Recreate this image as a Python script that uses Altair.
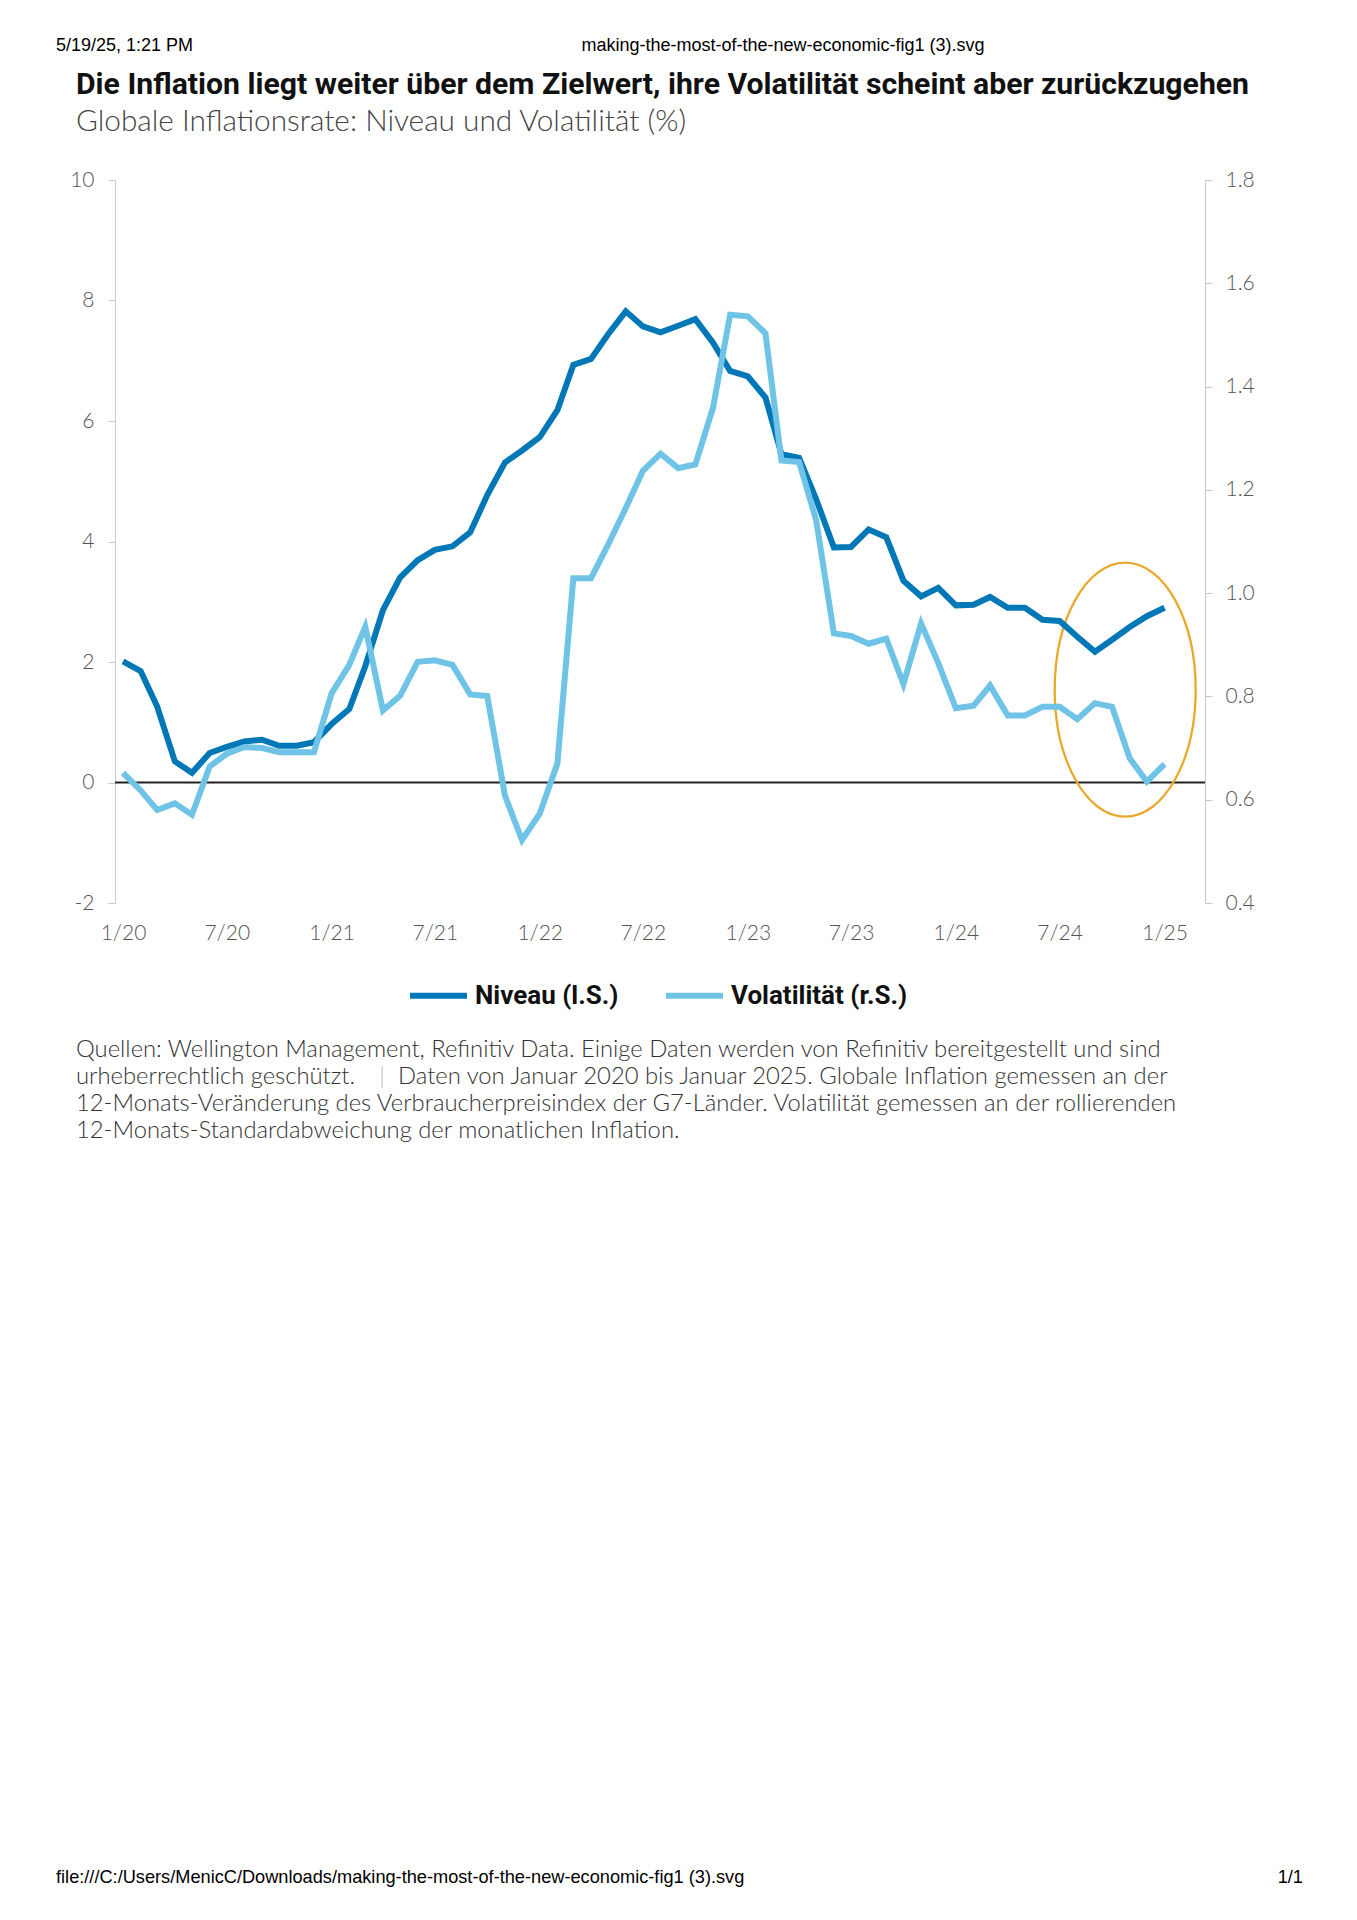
import altair as alt
import pandas as pd

# ---------------- data ----------------
months = [d.strftime("%Y-%m-%dT00:00:00") for d in pd.date_range("2020-01-01", periods=61, freq="MS")]

niveau = [2.01, 1.85, 1.26, 0.35, 0.16, 0.49, 0.59, 0.68, 0.71, 0.61,
          0.61, 0.67, 0.97, 1.22, 1.93, 2.86, 3.40, 3.69, 3.86, 3.92,
          4.15, 4.77, 5.31, 5.51, 5.73, 6.18, 6.93, 7.03, 7.44, 7.82,
          7.57, 7.47, 7.58, 7.69, 7.30, 6.83, 6.74, 6.39, 5.45, 5.39,
          4.70, 3.90, 3.91, 4.20, 4.07, 3.35, 3.09, 3.23, 2.94, 2.95,
          3.08, 2.90, 2.90, 2.70, 2.68, 2.42, 2.17, 2.37, 2.58, 2.76,
          2.90]

volatilitaet = [0.652, 0.618, 0.580, 0.593, 0.571, 0.664, 0.689, 0.702, 0.700, 0.692,
                0.692, 0.692, 0.806, 0.861, 0.935, 0.773, 0.801, 0.867, 0.870, 0.861,
                0.804, 0.801, 0.608, 0.522, 0.573, 0.670, 1.029, 1.029, 1.094, 1.165,
                1.237, 1.270, 1.242, 1.249, 1.359, 1.539, 1.536, 1.503, 1.257, 1.254,
                1.141, 0.922, 0.917, 0.902, 0.912, 0.824, 0.941, 0.865, 0.777, 0.782,
                0.821, 0.763, 0.763, 0.780, 0.780, 0.756, 0.787, 0.780, 0.680, 0.635,
                0.669]

series_names = ["Niveau (l.S.)", "Volatilität (r.S.)"]
series_colors = ["#0077B6", "#6EC3E6"]

left_ticks = [-2, 0, 2, 4, 6, 8, 10]
right_ticks = [0.4, 0.6, 0.8, 1.0, 1.2, 1.4, 1.6, 1.8]
x_tick_years = [2020, 2020, 2021, 2021, 2022, 2022, 2023, 2023, 2024, 2024, 2025]
x_tick_months = [1, 7, 1, 7, 1, 7, 1, 7, 1, 7, 1]

zero_value = [0]
highlight_date = ["2024-10-24T00:00:00"]
highlight_value = [1.54]

title_text = "Die Inflation liegt weiter über dem Zielwert, ihre Volatilität scheint aber zurückzugehen"
subtitle_text = "Globale Inflationsrate: Niveau und Volatilität (%)"
footnote_lines = [
    "Quellen: Wellington Management, Refinitiv Data. Einige Daten werden von Refinitiv bereitgestellt und sind",
    "urheberrechtlich geschützt.",
    "Daten von Januar 2020 bis Januar 2025. Globale Inflation gemessen an der",
    "12-Monats-Veränderung des Verbraucherpreisindex der G7-Länder. Volatilität gemessen an der rollierenden",
    "12-Monats-Standardabweichung der monatlichen Inflation.",
]
header_left = "5/19/25, 1:21 PM"
header_center = "making-the-most-of-the-new-economic-fig1 (3).svg"
footer_left = "file:///C:/Users/MenicC/Downloads/making-the-most-of-the-new-economic-fig1 (3).svg"
footer_right = "1/1"

# ---------------- tables ----------------
df_niveau = pd.DataFrame({"date": months, "value": niveau, "series": series_names[0]})
df_vola = pd.DataFrame({"date": months, "value": volatilitaet, "series": series_names[1]})
df_zero = pd.DataFrame({"value": zero_value})
df_highlight = pd.DataFrame({"date": highlight_date, "value": highlight_value})
df_one = pd.DataFrame({"k": [0]})

# ---------------- styles ----------------
LABEL_FONT = "Lato"
AXIS_GRAY = "#c9c9c9"

x_scale = alt.Scale(domain=[alt.DateTime(year=2019, month=12, date=18),
                            alt.DateTime(year=2025, month=3, date=13)])
x_axis = alt.Axis(
    values=[alt.DateTime(year=y, month=m, date=1) for y, m in zip(x_tick_years, x_tick_months)],
    format="%-m/%y", title=None, domain=False, ticks=False, tickSize=0, grid=False,
    labelPadding=19, labelFlush=False, labelFont=LABEL_FONT, labelFontWeight=300,
    labelFontSize=21, labelColor="#555555",
)
x_enc = alt.X("date:T", scale=x_scale, axis=x_axis)

left_scale = alt.Scale(domain=[-2, 10], nice=False, zero=False)
left_axis = alt.Axis(
    values=left_ticks, orient="left", title=None, grid=False,
    labelExpr="datum.value + ''",
    domainColor=AXIS_GRAY, domainWidth=1, tickColor=AXIS_GRAY, tickSize=7, tickWidth=1,
    labelPadding=14, labelFont=LABEL_FONT, labelFontWeight=300, labelFontSize=21,
    labelColor="#555555",
)
right_scale = alt.Scale(domain=[0.4, 1.8], nice=False, zero=False)
right_axis = alt.Axis(
    values=right_ticks, orient="right", title=None, grid=False, format=".1f",
    domainColor=AXIS_GRAY, domainWidth=1, tickColor=AXIS_GRAY, tickSize=7, tickWidth=1,
    labelPadding=13, labelFont=LABEL_FONT, labelFontWeight=300, labelFontSize=21,
    labelColor="#555555",
)

color_scale = alt.Scale(domain=series_names, range=series_colors)
legend = alt.Legend(
    orient="none", direction="horizontal", legendX=292, legendY=784, title=None,
    symbolType="stroke", symbolStrokeWidth=6, symbolSize=3249, labelOffset=5,
    columnPadding=35, padding=0, labelFont="Roboto", labelFontWeight="bold",
    labelFontSize=26, labelColor="#111111", labelLimit=400, symbolOpacity=1,
)

ellipse_path = ("M-0.555,0 C-0.555,-0.5523 -0.3065,-1 0,-1 C0.3065,-1 0.555,-0.5523 0.555,0 "
                "C0.555,0.5523 0.3065,1 0,1 C-0.3065,1 -0.555,0.5523 -0.555,0 Z")

# ---------------- marks ----------------
zero_rule = alt.Chart(df_zero).mark_rule(color="#222222", strokeWidth=2).encode(
    y=alt.Y("value:Q", scale=left_scale, axis=left_axis)
)
highlight = alt.Chart(df_highlight).mark_point(
    shape=ellipse_path, size=64516, filled=False, color="#E9A92D", strokeWidth=2.3, opacity=1
).encode(x=x_enc, y=alt.Y("value:Q", scale=left_scale, axis=left_axis))

line_niveau = alt.Chart(df_niveau).mark_line(strokeWidth=6).encode(
    x=x_enc,
    y=alt.Y("value:Q", scale=left_scale, axis=left_axis),
    color=alt.Color("series:N", scale=color_scale, legend=legend),
)
line_vola = alt.Chart(df_vola).mark_line(strokeWidth=6).encode(
    x=x_enc,
    y=alt.Y("value:Q", scale=right_scale, axis=right_axis),
    color=alt.Color("series:N", scale=color_scale, legend=legend),
)

left_layer = alt.layer(zero_rule, highlight, line_niveau)


def text_mark(txt, x, y, font, size, weight="normal", color="#000000", align="left"):
    return alt.Chart(df_one).mark_text(
        text=txt, font=font, fontSize=size, fontWeight=weight, color=color,
        align=align, baseline="middle",
    ).encode(x=alt.value(x), y=alt.value(y))


OX, OY = 115, 180  # plot origin on the page
FN = 23.8
texts = [
    text_mark(header_left, 56 - OX, 46 - OY, "Liberation Sans", 18),
    text_mark(header_center, 783 - OX, 46 - OY, "Liberation Sans", 18, align="center"),
    text_mark(title_text, 76 - OX, 85 - OY, "Roboto", 30.2, "bold", "#111111"),
    text_mark(subtitle_text, 76 - OX, 122 - OY, "Lato", 29.8, 300, "#444444"),
    text_mark(footnote_lines[0], 76 - OX, 1050 - OY, "Lato", FN, 300, "#333333"),
    text_mark(footnote_lines[1], 76 - OX, 1077 - OY, "Lato", FN, 300, "#333333"),
    text_mark("|", 382 - OX, 1077 - OY, "Lato", FN, 300, "#bbbbbb", align="center"),
    text_mark(footnote_lines[2], 398 - OX, 1077 - OY, "Lato", FN, 300, "#333333"),
    text_mark(footnote_lines[3], 76 - OX, 1104 - OY, "Lato", FN, 300, "#333333"),
    text_mark(footnote_lines[4], 76 - OX, 1131 - OY, "Lato", FN, 300, "#333333"),
    text_mark(footer_left, 56 - OX, 1878 - OY, "Liberation Sans", 18.2),
    text_mark(footer_right, 1303 - OX, 1878 - OY, "Liberation Sans", 18.2, align="right"),
]

chart = alt.layer(left_layer, line_vola, *texts).resolve_scale(
    y="independent"
).properties(
    width=1090, height=723,
    padding={"left": 107, "top": 172, "right": 136, "bottom": 1000},
    autosize=alt.AutoSizeParams(type="none"),
    background="white",
).configure_view(stroke=None)

chart.save("out.html", embed_options={"renderer": "svg", "actions": False})
